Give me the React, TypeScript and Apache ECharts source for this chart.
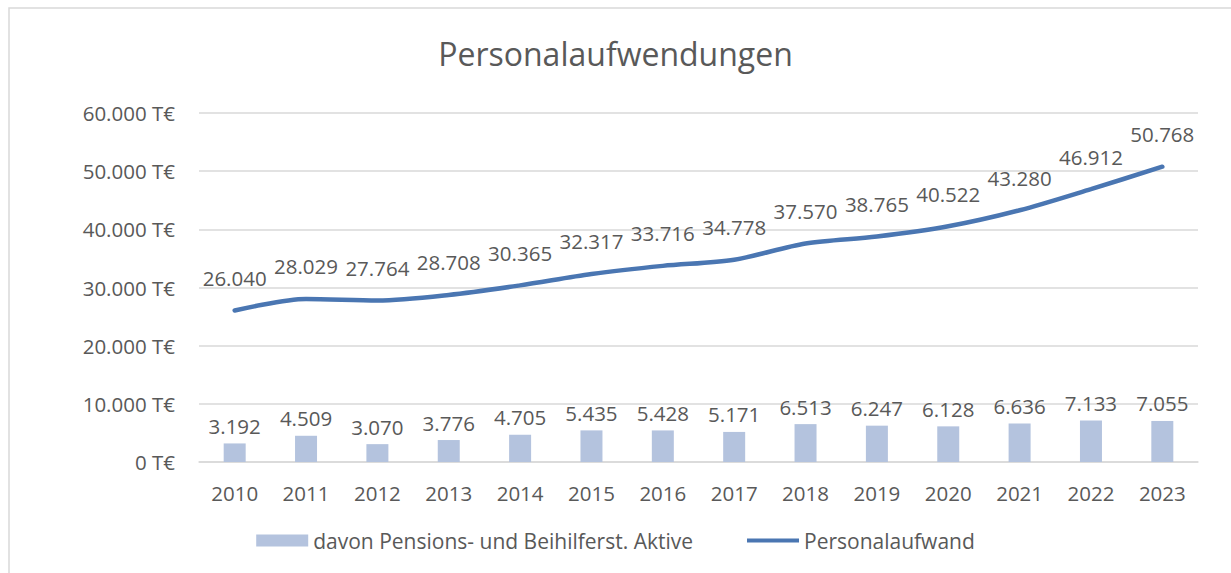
import React, { useEffect, useRef } from "react";
import * as echarts from "echarts";

const categories = ["2010","2011","2012","2013","2014","2015","2016","2017","2018","2019","2020","2021","2022","2023"];
const pensionValues = [3192,4509,3070,3776,4705,5435,5428,5171,6513,6247,6128,6636,7133,7055];
const personalValues = [26040,28029,27764,28708,30365,32317,33716,34778,37570,38765,40522,43280,46912,50768];

const fmt = (v: number) => {
  const s = Math.round(v).toString();
  return s.replace(/\B(?=(\d{3})+(?!\d))/g, ".");
};

const FONT = "'Open Sans', 'Noto Sans', sans-serif";
const TXT = "#595959";
const FS = 20.5;

export default function App() {
  const ref = useRef<HTMLDivElement>(null);
  useEffect(() => {
    document.body.style.margin = "0";
    const chart = echarts.init(ref.current!, null, { renderer: "svg" });
    chart.setOption({
      animation: false,
      backgroundColor: "#ffffff",
      textStyle: { fontFamily: FONT },
      title: {
        text: "Personalaufwendungen",
        left: "center",
        top: 32,
        textStyle: { fontFamily: FONT, fontSize: 32, fontWeight: "normal", color: TXT },
      },
      graphic: [
        { type: "rect", shape: { x: 9, y: 8, width: 1240, height: 600 }, style: { fill: "none", stroke: "#d9d9d9", lineWidth: 1.5 }, silent: true },
      ],
      grid: { left: 199, right: 33, top: 113, bottom: 111, containLabel: false },
      legend: {
        bottom: 17,
        left: "center",
        itemWidth: 52,
        itemHeight: 12,
        itemGap: 54,
        textStyle: { fontFamily: FONT, fontSize: 21, color: TXT },
        data: [
          { name: "davon Pensions- und Beihilferst. Aktive", icon: "rect" },
          { name: "Personalaufwand", icon: "path://M0,4 L52,4 L52,8 L0,8 Z" },
        ],
      },
      xAxis: {
        type: "category",
        data: categories,
        axisLine: { show: true, lineStyle: { color: "#d9d9d9", width: 1.5 } },
        axisTick: { show: false },
        axisLabel: { fontFamily: FONT, fontSize: FS, color: TXT, margin: 20 },
      },
      yAxis: {
        type: "value",
        min: 0,
        max: 60000,
        interval: 10000,
        axisLine: { show: false },
        axisTick: { show: false },
        splitLine: { lineStyle: { color: "#d9d9d9", width: 1.5 } },
        axisLabel: { fontFamily: FONT, fontSize: FS, color: TXT, margin: 24, formatter: (v: number) => fmt(v) + " T€" },
      },
      series: [
        {
          name: "davon Pensions- und Beihilferst. Aktive",
          type: "bar",
          data: pensionValues,
          barWidth: 22,
          itemStyle: { color: "#b4c3de" },
          label: { show: true, position: "top", distance: 7, fontFamily: FONT, fontSize: FS, color: TXT, formatter: (p: any) => fmt(p.value) },
        },
        {
          name: "Personalaufwand",
          type: "line",
          data: personalValues,
          smooth: 0.3,
          symbol: "circle",
          symbolSize: 0.1,
          showSymbol: true,
          lineStyle: { color: "#4a76b2", width: 4.5, cap: "round" },
          itemStyle: { color: "#4a76b2" },
          label: { show: true, position: "top", distance: 22, fontFamily: FONT, fontSize: FS, color: TXT, formatter: (p: any) => fmt(p.value) },
        },
      ],
    });
    return () => chart.dispose();
  }, []);
  return <div ref={ref} style={{ width: 1231, height: 573 }} />;
}
